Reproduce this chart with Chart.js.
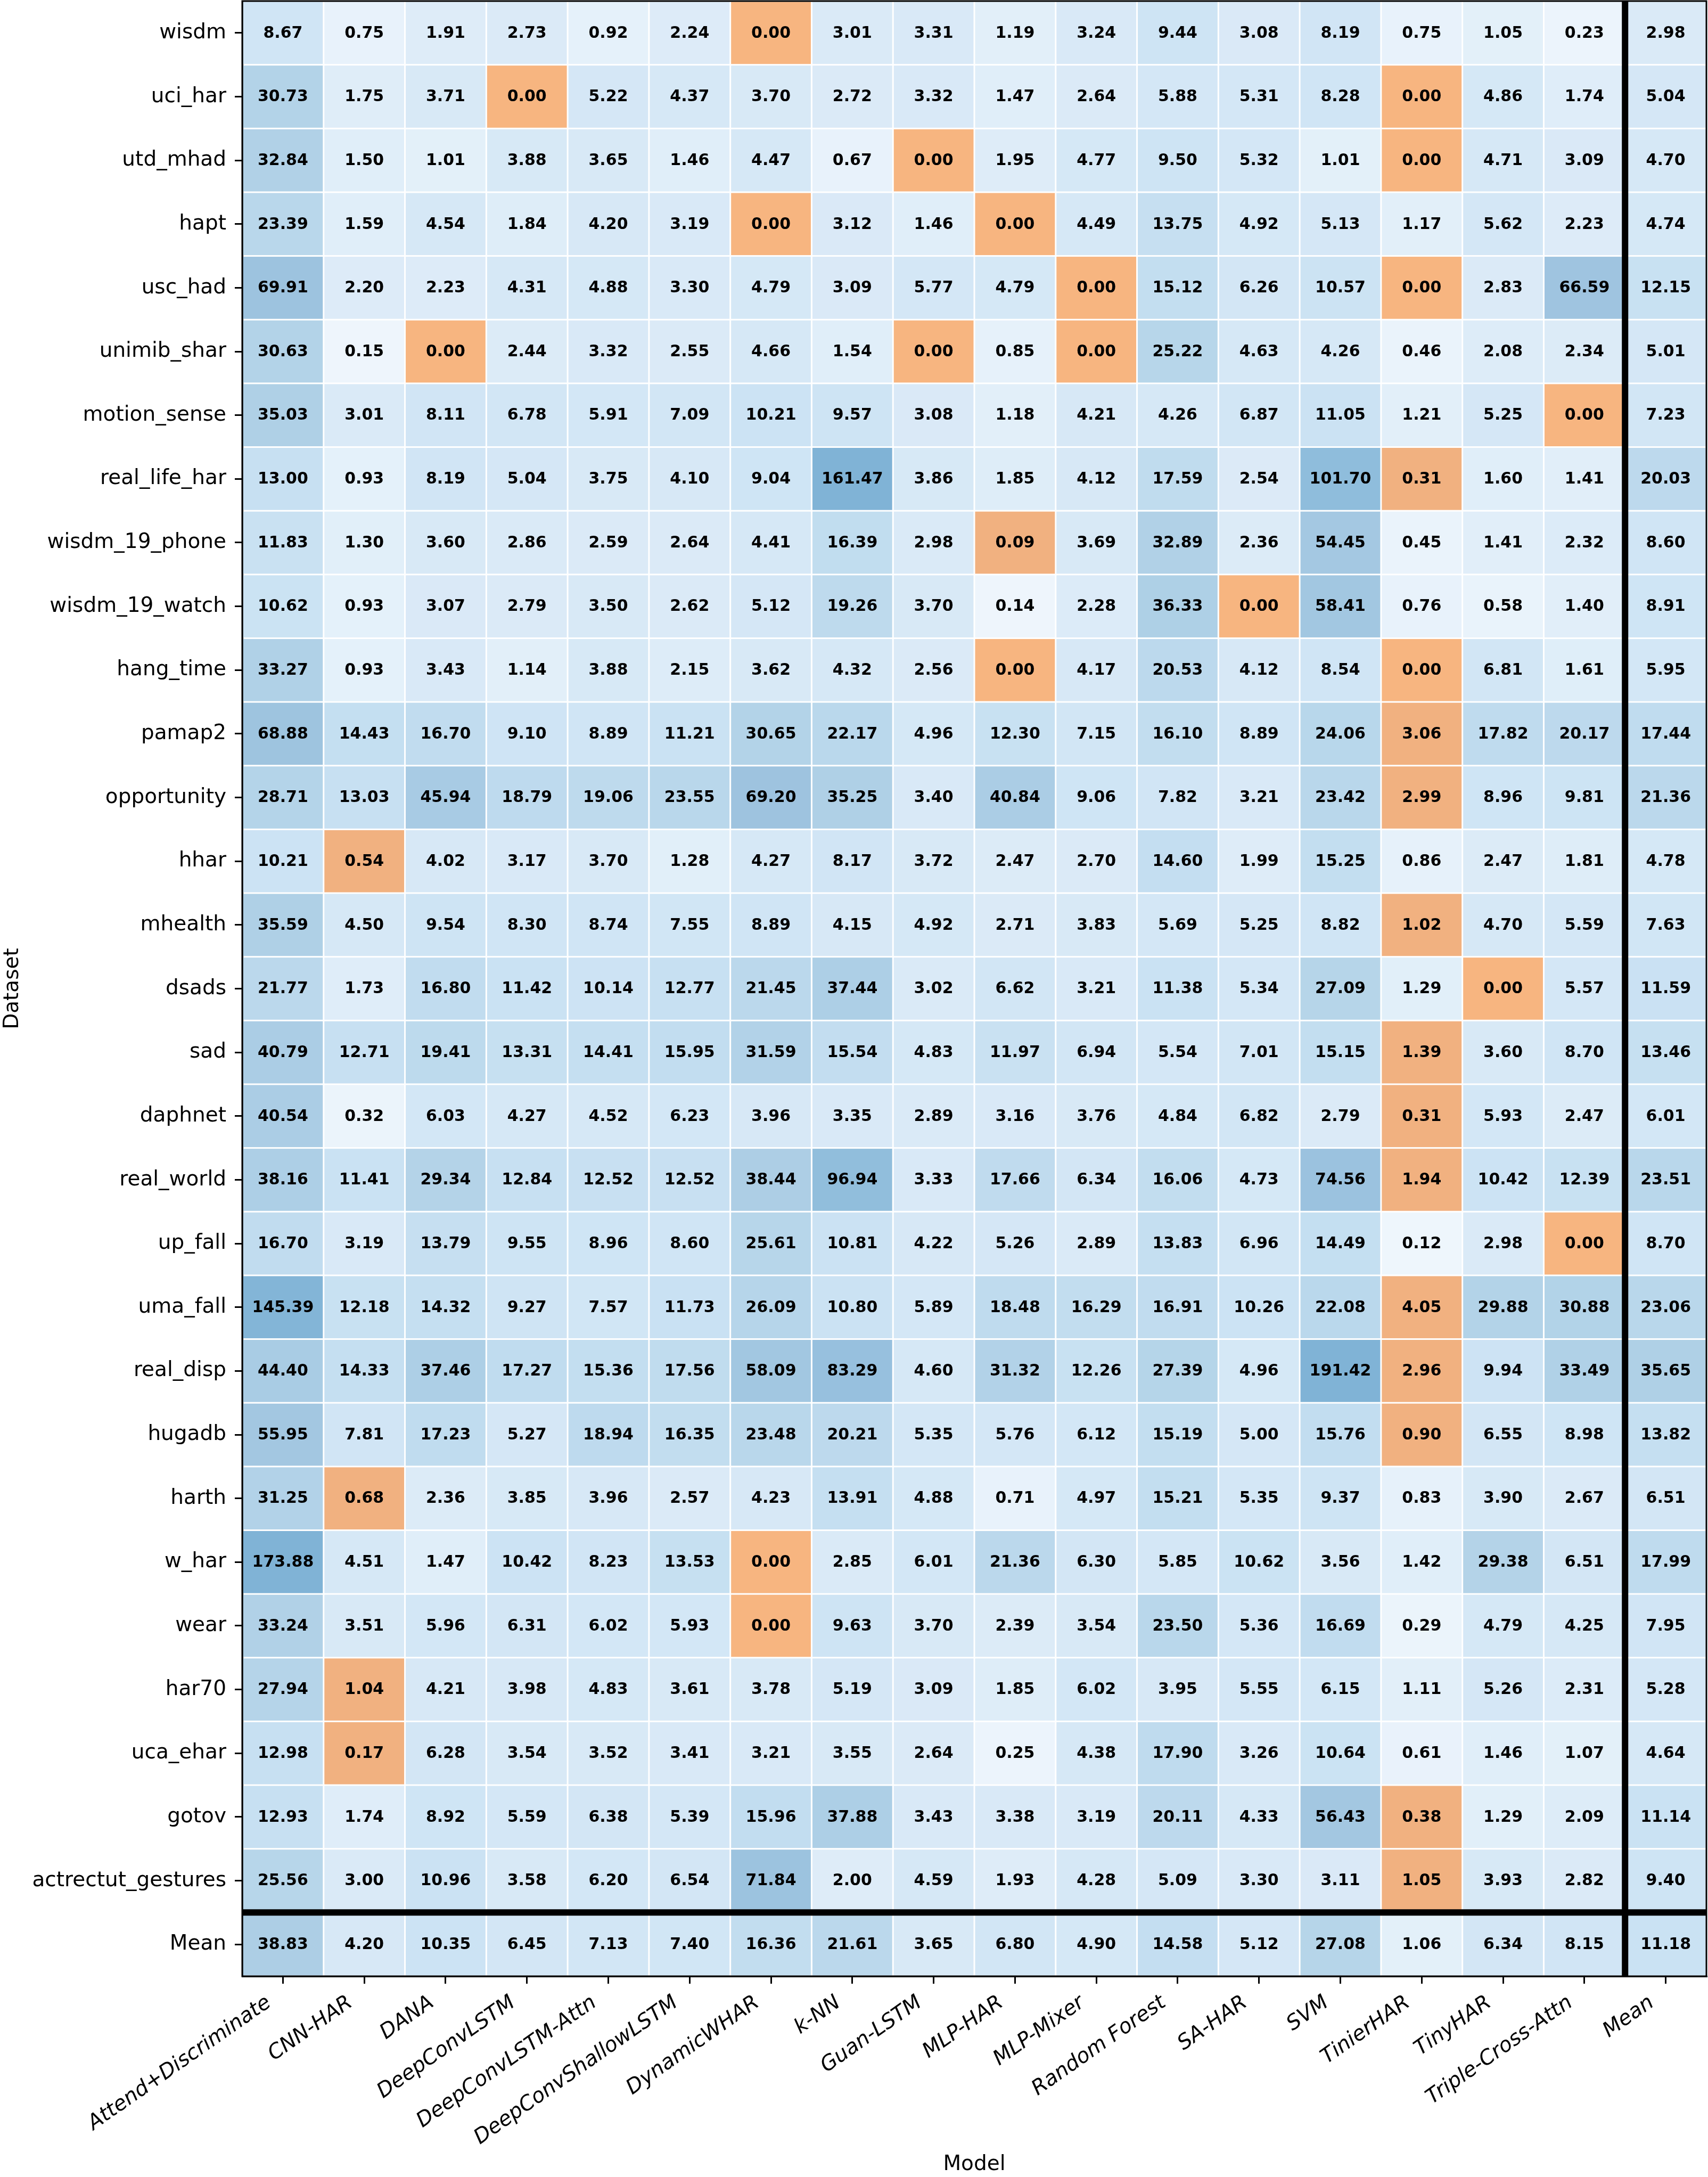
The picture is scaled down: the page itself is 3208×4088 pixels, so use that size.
<!DOCTYPE html>
<html>
<head>
<meta charset="utf-8">
<script src="https://cdn.jsdelivr.net/npm/chart.js@4/dist/chart.umd.min.js"></script>
<style>
  html, body { margin: 0; padding: 0; background: #fff; }
  canvas { display: block; }
</style>
</head>
<body>
<canvas id="heatmap" width="3208" height="4088"></canvas>
<script>
// column labels (last one is the row mean)
const models = [
  "Attend+Discriminate", "CNN-HAR", "DANA", "DeepConvLSTM", "DeepConvLSTM-Attn",
  "DeepConvShallowLSTM", "DynamicWHAR", "k-NN", "Guan-LSTM", "MLP-HAR", "MLP-Mixer",
  "Random Forest", "SA-HAR", "SVM", "TinierHAR", "TinyHAR", "Triple-Cross-Attn", "Mean"
];

const datasets = [
  "wisdm", "uci_har", "utd_mhad", "hapt", "usc_had", "unimib_shar", "motion_sense",
  "real_life_har", "wisdm_19_phone", "wisdm_19_watch", "hang_time", "pamap2", "opportunity",
  "hhar", "mhealth", "dsads", "sad", "daphnet", "real_world", "up_fall", "uma_fall",
  "real_disp", "hugadb", "harth", "w_har", "wear", "har70", "uca_ehar", "gotov",
  "actrectut_gestures", "Mean"
];

// one row per dataset, values in model order, mean last
const wisdm          = [8.67, 0.75, 1.91, 2.73, 0.92, 2.24, 0.00, 3.01, 3.31, 1.19, 3.24, 9.44, 3.08, 8.19, 0.75, 1.05, 0.23, 2.98];
const uci_har        = [30.73, 1.75, 3.71, 0.00, 5.22, 4.37, 3.70, 2.72, 3.32, 1.47, 2.64, 5.88, 5.31, 8.28, 0.00, 4.86, 1.74, 5.04];
const utd_mhad       = [32.84, 1.50, 1.01, 3.88, 3.65, 1.46, 4.47, 0.67, 0.00, 1.95, 4.77, 9.50, 5.32, 1.01, 0.00, 4.71, 3.09, 4.70];
const hapt           = [23.39, 1.59, 4.54, 1.84, 4.20, 3.19, 0.00, 3.12, 1.46, 0.00, 4.49, 13.75, 4.92, 5.13, 1.17, 5.62, 2.23, 4.74];
const usc_had        = [69.91, 2.20, 2.23, 4.31, 4.88, 3.30, 4.79, 3.09, 5.77, 4.79, 0.00, 15.12, 6.26, 10.57, 0.00, 2.83, 66.59, 12.15];
const unimib_shar    = [30.63, 0.15, 0.00, 2.44, 3.32, 2.55, 4.66, 1.54, 0.00, 0.85, 0.00, 25.22, 4.63, 4.26, 0.46, 2.08, 2.34, 5.01];
const motion_sense   = [35.03, 3.01, 8.11, 6.78, 5.91, 7.09, 10.21, 9.57, 3.08, 1.18, 4.21, 4.26, 6.87, 11.05, 1.21, 5.25, 0.00, 7.23];
const real_life_har  = [13.00, 0.93, 8.19, 5.04, 3.75, 4.10, 9.04, 161.47, 3.86, 1.85, 4.12, 17.59, 2.54, 101.70, 0.31, 1.60, 1.41, 20.03];
const wisdm_19_phone = [11.83, 1.30, 3.60, 2.86, 2.59, 2.64, 4.41, 16.39, 2.98, 0.09, 3.69, 32.89, 2.36, 54.45, 0.45, 1.41, 2.32, 8.60];
const wisdm_19_watch = [10.62, 0.93, 3.07, 2.79, 3.50, 2.62, 5.12, 19.26, 3.70, 0.14, 2.28, 36.33, 0.00, 58.41, 0.76, 0.58, 1.40, 8.91];
const hang_time      = [33.27, 0.93, 3.43, 1.14, 3.88, 2.15, 3.62, 4.32, 2.56, 0.00, 4.17, 20.53, 4.12, 8.54, 0.00, 6.81, 1.61, 5.95];
const pamap2         = [68.88, 14.43, 16.70, 9.10, 8.89, 11.21, 30.65, 22.17, 4.96, 12.30, 7.15, 16.10, 8.89, 24.06, 3.06, 17.82, 20.17, 17.44];
const opportunity    = [28.71, 13.03, 45.94, 18.79, 19.06, 23.55, 69.20, 35.25, 3.40, 40.84, 9.06, 7.82, 3.21, 23.42, 2.99, 8.96, 9.81, 21.36];
const hhar           = [10.21, 0.54, 4.02, 3.17, 3.70, 1.28, 4.27, 8.17, 3.72, 2.47, 2.70, 14.60, 1.99, 15.25, 0.86, 2.47, 1.81, 4.78];
const mhealth        = [35.59, 4.50, 9.54, 8.30, 8.74, 7.55, 8.89, 4.15, 4.92, 2.71, 3.83, 5.69, 5.25, 8.82, 1.02, 4.70, 5.59, 7.63];
const dsads          = [21.77, 1.73, 16.80, 11.42, 10.14, 12.77, 21.45, 37.44, 3.02, 6.62, 3.21, 11.38, 5.34, 27.09, 1.29, 0.00, 5.57, 11.59];
const sad            = [40.79, 12.71, 19.41, 13.31, 14.41, 15.95, 31.59, 15.54, 4.83, 11.97, 6.94, 5.54, 7.01, 15.15, 1.39, 3.60, 8.70, 13.46];
const daphnet        = [40.54, 0.32, 6.03, 4.27, 4.52, 6.23, 3.96, 3.35, 2.89, 3.16, 3.76, 4.84, 6.82, 2.79, 0.31, 5.93, 2.47, 6.01];
const real_world     = [38.16, 11.41, 29.34, 12.84, 12.52, 12.52, 38.44, 96.94, 3.33, 17.66, 6.34, 16.06, 4.73, 74.56, 1.94, 10.42, 12.39, 23.51];
const up_fall        = [16.70, 3.19, 13.79, 9.55, 8.96, 8.60, 25.61, 10.81, 4.22, 5.26, 2.89, 13.83, 6.96, 14.49, 0.12, 2.98, 0.00, 8.70];
const uma_fall       = [145.39, 12.18, 14.32, 9.27, 7.57, 11.73, 26.09, 10.80, 5.89, 18.48, 16.29, 16.91, 10.26, 22.08, 4.05, 29.88, 30.88, 23.06];
const real_disp      = [44.40, 14.33, 37.46, 17.27, 15.36, 17.56, 58.09, 83.29, 4.60, 31.32, 12.26, 27.39, 4.96, 191.42, 2.96, 9.94, 33.49, 35.65];
const hugadb         = [55.95, 7.81, 17.23, 5.27, 18.94, 16.35, 23.48, 20.21, 5.35, 5.76, 6.12, 15.19, 5.00, 15.76, 0.90, 6.55, 8.98, 13.82];
const harth          = [31.25, 0.68, 2.36, 3.85, 3.96, 2.57, 4.23, 13.91, 4.88, 0.71, 4.97, 15.21, 5.35, 9.37, 0.83, 3.90, 2.67, 6.51];
const w_har          = [173.88, 4.51, 1.47, 10.42, 8.23, 13.53, 0.00, 2.85, 6.01, 21.36, 6.30, 5.85, 10.62, 3.56, 1.42, 29.38, 6.51, 17.99];
const wear           = [33.24, 3.51, 5.96, 6.31, 6.02, 5.93, 0.00, 9.63, 3.70, 2.39, 3.54, 23.50, 5.36, 16.69, 0.29, 4.79, 4.25, 7.95];
const har70          = [27.94, 1.04, 4.21, 3.98, 4.83, 3.61, 3.78, 5.19, 3.09, 1.85, 6.02, 3.95, 5.55, 6.15, 1.11, 5.26, 2.31, 5.28];
const uca_ehar       = [12.98, 0.17, 6.28, 3.54, 3.52, 3.41, 3.21, 3.55, 2.64, 0.25, 4.38, 17.90, 3.26, 10.64, 0.61, 1.46, 1.07, 4.64];
const gotov          = [12.93, 1.74, 8.92, 5.59, 6.38, 5.39, 15.96, 37.88, 3.43, 3.38, 3.19, 20.11, 4.33, 56.43, 0.38, 1.29, 2.09, 11.14];
const actrectut      = [25.56, 3.00, 10.96, 3.58, 6.20, 6.54, 71.84, 2.00, 4.59, 1.93, 4.28, 5.09, 3.30, 3.11, 1.05, 3.93, 2.82, 9.40];
const meanRow        = [38.83, 4.20, 10.35, 6.45, 7.13, 7.40, 16.36, 21.61, 3.65, 6.80, 4.90, 14.58, 5.12, 27.08, 1.06, 6.34, 8.15, 11.18];

const rows = [
  wisdm, uci_har, utd_mhad, hapt, usc_had, unimib_shar, motion_sense, real_life_har,
  wisdm_19_phone, wisdm_19_watch, hang_time, pamap2, opportunity, hhar, mhealth, dsads,
  sad, daphnet, real_world, up_fall, uma_fall, real_disp, hugadb, harth, w_har, wear,
  har70, uca_ehar, gotov, actrectut, meanRow
];

// light -> dark blue ramp on log10(value)
const blueStops = [
  [-1.0, 239, 246, 252], [-0.12, 232, 242, 251], [0.0, 227, 240, 249], [0.18, 224, 238, 249],
  [0.43, 219, 234, 247], [0.65, 214, 232, 246], [0.94, 208, 229, 245], [1.15, 197, 223, 241],
  [1.48, 179, 211, 232], [1.85, 157, 195, 223], [2.0, 144, 189, 220], [2.2, 128, 179, 214]
];

function blueFor(v) {
  const t = Math.log10(Math.max(v, 0.1));
  if (t <= blueStops[0][0]) return `rgb(${blueStops[0].slice(1).join(",")})`;
  for (let k = 1; k < blueStops.length; k++) {
    const a = blueStops[k - 1], b = blueStops[k];
    if (t <= b[0]) {
      const f = (t - a[0]) / (b[0] - a[0]);
      const c = [1, 2, 3].map(n => Math.round(a[n] + (b[n] - a[n]) * f));
      return `rgb(${c.join(",")})`;
    }
  }
  const last = blueStops[blueStops.length - 1];
  return `rgb(${last.slice(1).join(",")})`;
}

const heatmapCells = {
  id: "heatmapCells",
  beforeDatasetsDraw(chart) {
    const { ctx, scales: { x, y } } = chart;
    const cw = Math.abs(x.getPixelForValue(1) - x.getPixelForValue(0));
    const ch = Math.abs(y.getPixelForValue(1) - y.getPixelForValue(0));
    const nModels = models.length - 1;
    ctx.save();
    ctx.font = 'bold 30px "DejaVu Sans"';
    ctx.textAlign = "center";
    ctx.textBaseline = "middle";
    rows.forEach((vals, i) => {
      const isMeanRow = i === rows.length - 1;
      const rowMin = Math.min(...vals.slice(0, nModels));
      vals.forEach((v, j) => {
        const px = x.getPixelForValue(j);
        const py = y.getPixelForValue(i);
        const best = !isMeanRow && j < nModels && v === rowMin;
        if (best) {
          ctx.fillStyle = v === 0 ? "rgb(247,181,128)" : "rgb(241,177,128)";
        } else {
          ctx.fillStyle = blueFor(v);
        }
        ctx.fillRect(px - cw / 2 + 1.5, py - ch / 2 + 1.5, cw - 3, ch - 3);
        ctx.fillStyle = "#000";
        ctx.fillText(v.toFixed(2), px, py + 1);
      });
    });
    ctx.restore();
  },
  afterDatasetsDraw(chart) {
    const { ctx, chartArea: a, scales: { x, y } } = chart;
    const n = rows.length;
    const m = models.length;
    const yLine = (y.getPixelForValue(n - 2) + y.getPixelForValue(n - 1)) / 2;
    const xLine = (x.getPixelForValue(m - 2) + x.getPixelForValue(m - 1)) / 2;
    ctx.save();
    ctx.strokeStyle = "#000";
    ctx.lineWidth = 12;
    ctx.beginPath();
    ctx.moveTo(a.left, yLine);
    ctx.lineTo(a.right, yLine);
    ctx.moveTo(xLine, a.top);
    ctx.lineTo(xLine, a.bottom);
    ctx.stroke();
    // frame
    ctx.lineWidth = 3;
    ctx.strokeRect(a.left, a.top, a.right - a.left, a.bottom - a.top);
    ctx.restore();
  }
};

Chart.defaults.font.family = '"DejaVu Sans", sans-serif';
Chart.defaults.color = "#000";

const points = [];
rows.forEach((vals, i) => vals.forEach((v, j) => points.push({ x: models[j], y: datasets[i], v })));

new Chart(document.getElementById("heatmap"), {
  type: "scatter",
  data: {
    datasets: [{ data: points, pointRadius: 0, pointHoverRadius: 0 }]
  },
  options: {
    responsive: false,
    animation: false,
    devicePixelRatio: 1,
    layout: { padding: { top: 2, right: 3, left: 0, bottom: 0 } },
    plugins: { legend: { display: false }, tooltip: { enabled: false } },
    scales: {
      x: {
        type: "category",
        labels: models,
        offset: true,
        position: "bottom",
        grid: { display: true, drawOnChartArea: false, drawTicks: true, tickLength: 14, lineWidth: 3, tickWidth: 3, tickColor: "#000" },
        border: { display: true, color: "#000", width: 3 },
        ticks: {
          autoSkip: false, minRotation: 35, maxRotation: 35, padding: 13, labelOffset: -26,
          color: "#000", font: { size: 39, style: "italic" }
        },
        title: { display: true, text: "Model", color: "#000", font: { size: 39 }, padding: 0 },
        afterFit(scale) {
          scale.height = 377;
          scale.paddingLeft = 0;
          scale.paddingRight = 0;
        }
      },
      y: {
        type: "category",
        labels: datasets,
        offset: true,
        grid: { display: true, drawOnChartArea: false, drawTicks: true, tickLength: 14, lineWidth: 3, tickWidth: 3, tickColor: "#000" },
        border: { display: true, color: "#000", width: 3 },
        ticks: { autoSkip: false, padding: 16, color: "#000", font: { size: 39 } },
        title: { display: true, text: "Dataset", color: "#000", font: { size: 39 }, padding: 0 },
        afterFit(scale) {
          scale.width = 455;
          scale.paddingTop = 0;
          scale.paddingBottom = 0;
        }
      }
    }
  },
  plugins: [heatmapCells]
});
</script>
</body>
</html>
